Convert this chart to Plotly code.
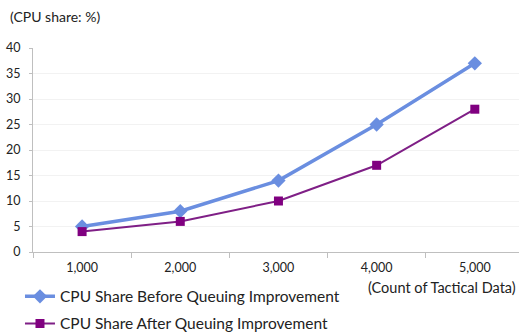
import plotly.graph_objects as go

categories = ["1,000", "2,000", "3,000", "4,000", "5,000"]
before = [5, 8, 14, 25, 37]
after = [4, 6, 10, 17, 28]
y_ticks = [0, 5, 10, 15, 20, 25, 30, 35, 40]

FONT = "Lato"
TXT = "#222222"
fig = go.Figure()
fig.add_trace(go.Scatter(
    x=categories, y=before, mode="lines+markers",
    name="CPU Share Before Queuing Improvement", legendgroup="a",
    line=dict(color="#6A8EE0", width=3.5),
    marker=dict(symbol="diamond", size=11, color="#6A8EE0"),
))
fig.add_trace(go.Scatter(
    x=categories, y=after, mode="lines+markers",
    name="CPU Share After Queuing Improvement", legendgroup="b",
    line=dict(color="#7F1F86", width=2),
    marker=dict(symbol="square", size=9, color="#800080"),
))

fig.update_layout(
    width=519, height=333,
    margin=dict(l=33, r=0, t=48, b=81, autoexpand=False),
    paper_bgcolor="white", plot_bgcolor="white",
    font=dict(family=FONT, size=12, color=TXT),
    showlegend=True,
    legend=dict(orientation="v", xref="container", yref="container",
                x=0.0385, y=0.16, xanchor="left", yanchor="top",
                font=dict(size=15.5, family=FONT, color=TXT),
                bgcolor="rgba(0,0,0,0)", tracegroupgap=4, itemwidth=30),
    xaxis=dict(type="category", range=[-0.5, 4.45], showgrid=False, automargin=False,
               tickangle=0, ticklabelstandoff=4,
               showline=True, linecolor="#BFBFBF", linewidth=1,
               ticks="outside", tickson="boundaries", ticklen=5, tickcolor="#BFBFBF",
               tickfont=dict(size=12.5, family=FONT, color=TXT)),
    yaxis=dict(range=[0, 40], tickvals=y_ticks, showgrid=True, gridcolor="#F2F2F2",
               automargin=False, ticklabelstandoff=6,
               showline=True, linecolor="#BFBFBF", linewidth=1,
               ticks="outside", ticklen=3, tickcolor="#BFBFBF", zeroline=False,
               tickfont=dict(size=12.5, family=FONT, color=TXT)),
    annotations=[
        dict(text="(CPU share: %)", xref="paper", yref="paper", x=-0.0514, y=1.152,
             xanchor="left", yanchor="middle", showarrow=False,
             font=dict(size=14, family=FONT, color=TXT)),
        dict(text="(Count of Tactical Data)", xref="paper", yref="paper", x=0.9975, y=-0.172,
             xanchor="right", yanchor="middle", showarrow=False,
             font=dict(size=14.5, family=FONT, color=TXT)),
    ],
)
fig.write_html(
    "out.html",
    config={"displayModeBar": False},
    post_script="document.body.style.margin='0';document.body.style.overflow='hidden';",
)
